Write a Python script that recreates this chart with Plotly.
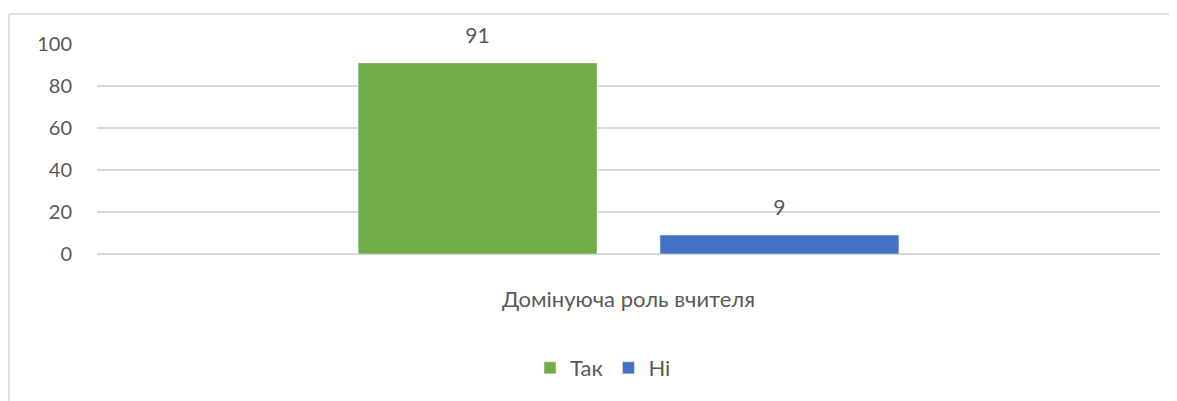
import plotly.graph_objects as go

categories = ["Домінуюча роль вчителя"]
series_names = ["Так", "Ні"]
values_tak = [91]
values_ni = [9]
colors = ["#70AD47", "#4472C4"]
y_ticks = [0, 20, 40, 60, 80, 100]

FONT = "Lato, 'Liberation Sans', sans-serif"
TXT = "#595959"
GRID = "#D9D9D9"

fig = go.Figure()
series_values = [values_tak, values_ni]
for i, (name, vals) in enumerate(zip(series_names, series_values)):
    fig.add_trace(go.Bar(
        x=categories, y=vals, name=name, marker_color=colors[i],
        offsetgroup=str(i), hoverinfo="skip",
    ))
for i, (name, vals) in enumerate(zip(series_names, series_values)):
    fig.add_trace(go.Scatter(
        x=categories, y=vals, mode="markers+text", text=[str(v) for v in vals],
        textposition="top center", offsetgroup=str(i), showlegend=False,
        marker=dict(size=22, color="rgba(0,0,0,0)"), cliponaxis=False,
        textfont=dict(family=FONT, size=21, color=TXT), hoverinfo="skip",
    ))

# page body has an 8px margin; figure placed at (8, 8) in the window
OFF = 8
W, H = 1177 - OFF, 401 - OFF
L, R, T, B = 97 - OFF, 1177 - 1160, 44 - OFF, 401 - 254
pw, ph = W - L - R, H - T - B

def px_x(x):
    return (x - OFF - L) / pw

def px_y(y):
    return (H - B - (y - OFF)) / ph

fig.update_layout(
    width=W, height=H, autosize=False,
    margin=dict(l=L, r=R, t=T, b=B, pad=0),
    paper_bgcolor="white", plot_bgcolor="white",
    barmode="group", bargap=0.432, bargroupgap=0.2086,
    scattermode="group", scattergap=0.432,
    font=dict(family=FONT, size=21, color=TXT),
    showlegend=True,
    legend=dict(orientation="h", x=px_x(603), xanchor="center",
                y=px_y(368), yanchor="middle",
                font=dict(family=FONT, size=22, color=TXT),
                itemwidth=30, tracegroupgap=0),
    xaxis=dict(showgrid=False, showline=False, zeroline=False,
               ticks="", ticklabelstandoff=30,
               tickfont=dict(family=FONT, size=22, color=TXT)),
    yaxis=dict(range=[0, 100], tickvals=y_ticks, showgrid=True,
               gridcolor=GRID, gridwidth=1.5, zeroline=True,
               zerolinecolor=GRID, zerolinewidth=1.5, showline=False,
               ticks="", ticklabelstandoff=24,
               tickfont=dict(family=FONT, size=20, color=TXT)),
    shapes=[
        dict(type="line", xref="paper", yref="paper",
             x0=px_x(9), x1=px_x(1177 + 5), y0=px_y(14), y1=px_y(14),
             line=dict(color=GRID, width=1.5)),
        dict(type="line", xref="paper", yref="paper",
             x0=px_x(9), x1=px_x(9), y0=px_y(14), y1=px_y(401 + 5),
             line=dict(color=GRID, width=1.5)),
    ],
)

fig.write_html("out.html")
